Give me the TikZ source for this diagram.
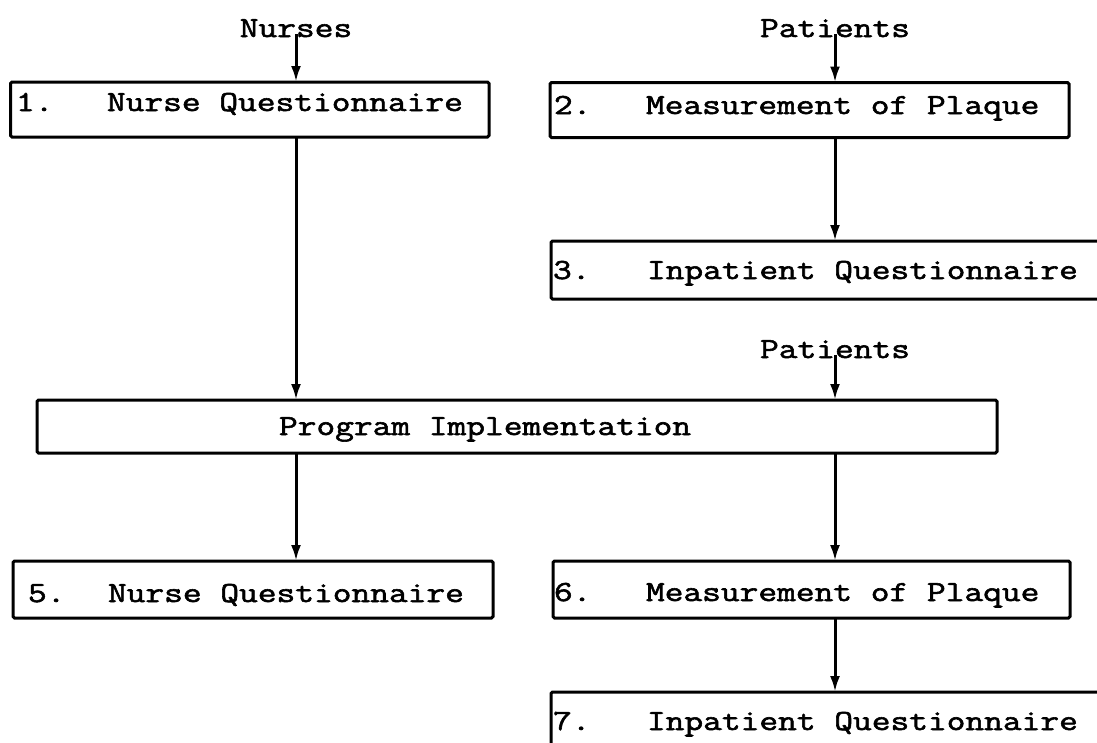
\documentclass[tikz,border=0pt]{standalone}
\usepackage{fontspec}
\newfontfamily\tw[FakeStretch=1.25,FakeBold=2]{Latin Modern Mono}
\usetikzlibrary{arrows.meta}
\begin{document}
\begin{tikzpicture}[x=1pt,y=-1pt,
  every node/.style={inner sep=0pt, outer sep=0pt},
  box/.style={draw, line width=3pt, rounded corners=1.5pt},
  lbl/.style={font=\tw\fontsize{29.1}{34}\selectfont, anchor=base},
  txt/.style={font=\tw\fontsize{29.1}{34}\selectfont, anchor=base west},
  arr/.style={line width=3pt, -{Latex[length=16pt,width=10pt]}}
]
\useasboundingbox (0,0) rectangle (1097,742);

% labels
\node[lbl] (nurses) at (296,37) {Nurses};
\node[lbl] (pat1) at (835,37) {Patients};
\node[lbl] (pat2) at (835,358) {Patients};

% boxes
\node[box, minimum width=478.5pt, minimum height=55pt] (b1) at (249.75,109.5) {};
\node[box, minimum width=519pt, minimum height=55pt] (b2) at (809.5,110) {};
\node[box, minimum width=570pt, minimum height=58pt] (b3) at (836,270) {};
\node[box, minimum width=960pt, minimum height=53pt] (prog) at (517,426.5) {};
\node[box, minimum width=480pt, minimum height=57pt] (b5) at (253,589.5) {};
\node[box, minimum width=517pt, minimum height=57pt] (b6) at (811.5,589.5) {};
\node[box, minimum width=570pt, minimum height=62pt] (b7) at (836,723) {};

% texts
\node[txt] (t1) at (16,111) {\makebox[91pt][l]{1.}Nurse Questionnaire};
\node[txt] (t2) at (554,114) {\makebox[92pt][l]{2.}Measurement of Plaque};
\node[txt] (t3) at (553,279) {\makebox[94pt][l]{3.}Inpatient Questionnaire};
\node[txt] (tp) at (279,435) {Program Implementation};
\node[txt] (t5) at (28,602) {\makebox[80pt][l]{5.}Nurse Questionnaire};
\node[txt] (t6) at (554,601) {\makebox[92pt][l]{6.}Measurement of Plaque};
\node[txt] (t7) at (553,730) {\makebox[94pt][l]{7.}Inpatient Questionnaire};

% connectors
\draw[arr] ([yshift=3pt]nurses.south) -- (nurses.south |- b1.north);
\draw[arr] ([yshift=3pt]pat1.south) -- (pat1.south |- b2.north);
\draw[arr] (b2.south -| pat1.south) -- (pat1.south |- b3.north);
\draw[arr] (b1.south -| nurses.south) -- (nurses.south |- prog.north);
\draw[arr] ([yshift=3pt]pat2.south) -- (pat2.south |- prog.north);
\draw[arr] (prog.south -| nurses.south) -- (nurses.south |- b5.north);
\draw[arr] (prog.south -| pat2.south) -- (pat2.south |- b6.north);
\draw[arr] (b6.south -| pat2.south) -- (pat2.south |- b7.north);
\end{tikzpicture}
\end{document}
